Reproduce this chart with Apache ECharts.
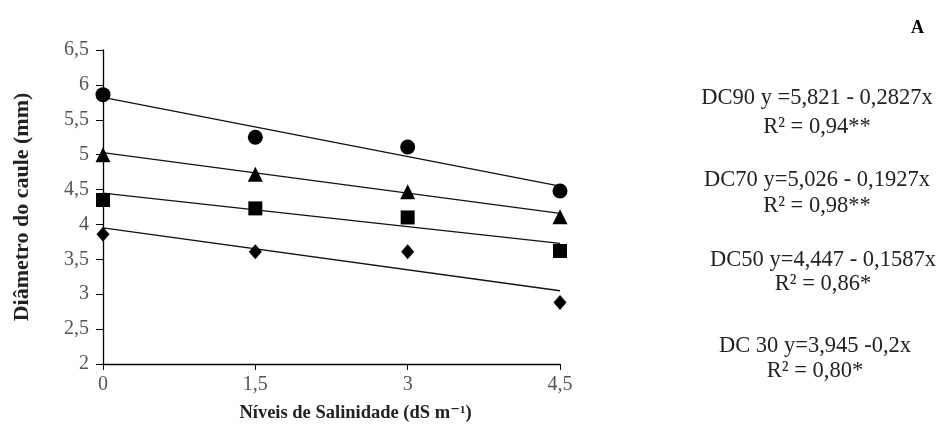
<!DOCTYPE html>
<html>
<head>
<meta charset="utf-8">
<script src="https://cdn.jsdelivr.net/npm/echarts@6/dist/echarts.min.js"></script>
<style>
    html, body { margin: 0; padding: 0; background: #fff; }
    #chart { width: 941px; height: 435px; }
</style>
</head>
<body>
<div id="chart"></div>
<script>
let salinity = [0, 1.5, 3, 4.5];
let trendX = [0, 4.5];

let dc90 = [5.86, 5.25, 5.11, 4.48];
let dc70 = [5.00, 4.72, 4.47, 4.11];
let dc50 = [4.35, 4.23, 4.10, 3.62];
let dc30 = [3.86, 3.61, 3.61, 2.88];

// fitted lines, values at x=0 and x=4.5
let fit90 = [5.82, 4.55];
let fit70 = [5.03, 4.16];
let fit50 = [4.45, 3.73];
let fit30 = [3.95, 3.05];

let eqLabels = [
    ['DC90 y =5,821 - 0,2827x', 'R² = 0,94**'],
    ['DC70 y=5,026 - 0,1927x', 'R² = 0,98**'],
    ['DC50 y=4,447 - 0,1587x', 'R² = 0,86*'],
    ['DC 30 y=3,945 -0,2x', 'R² = 0,80*']
];
let eqY = [[98, 127], [180, 206], [260, 284], [346, 371]];
let eqX = [817, 817, 823, 815];

let serif = '"Liberation Serif", "DejaVu Serif", serif';

function pairs(xs, ys) {
    return xs.map(function (x, i) { return [x, ys[i]]; });
}

function scatter(name, data, symbol, size) {
    return {
        name: name,
        type: 'scatter',
        symbol: symbol,
        symbolSize: size,
        itemStyle: { color: '#000', opacity: 1 },
        data: pairs(salinity, data),
        z: 3
    };
}

function trend(name, data) {
    return {
        name: name,
        type: 'line',
        symbol: 'none',
        lineStyle: { color: '#111', width: 1.3 },
        data: pairs(trendX, data),
        z: 2
    };
}

let graphics = [{
    type: 'text',
    left: 911,
    top: 19,
    style: { text: 'A', font: 'bold 18px ' + serif, fill: '#000' }
}];
eqLabels.forEach(function (lab, i) {
    for (let j = 0; j < 2; j++) {
        graphics.push({
            type: 'text',
            x: eqX[i],
            y: eqY[i][j],
            style: {
                text: lab[j],
                font: '22.5px ' + serif,
                fill: '#222',
                align: 'center',
                verticalAlign: 'middle'
            }
        });
    }
});

let chart = echarts.init(document.getElementById('chart'));
let option = {
    backgroundColor: '#fff',
    animation: false,
    grid: { left: 103, right: 381, top: 50, bottom: 71 },
    xAxis: {
        type: 'value',
        min: 0,
        max: 4.5,
        interval: 1.5,
        name: 'Níveis de Salinidade (dS m⁻¹)',
        nameLocation: 'middle',
        nameGap: 40,
        nameTextStyle: {
            fontFamily: serif, fontWeight: 'bold', fontSize: 18.5, color: '#222',
            padding: [0, 0, 0, 48]
        },
        axisLine: { lineStyle: { color: '#000', width: 1.3 } },
        axisTick: { show: true, inside: false, length: 6, lineStyle: { color: '#000' } },
        axisLabel: {
            fontFamily: serif, fontSize: 20, color: '#555', margin: 11,
            formatter: function (v) { return String(v).replace('.', ','); }
        },
        splitLine: { show: false }
    },
    yAxis: {
        type: 'value',
        min: 2,
        max: 6.5,
        interval: 0.5,
        name: 'Diâmetro do caule (mm)',
        nameLocation: 'middle',
        nameGap: 70,
        nameTextStyle: { fontFamily: serif, fontWeight: 'bold', fontSize: 22, color: '#222' },
        axisLine: { show: true, lineStyle: { color: '#000', width: 1.3 } },
        axisTick: { show: true, inside: false, length: 7, lineStyle: { color: '#000' } },
        axisLabel: {
            fontFamily: serif, fontSize: 20, color: '#555', margin: 14,
            formatter: function (v) { return String(v).replace('.', ','); }
        },
        splitLine: { show: false }
    },
    series: [
        trend('fit90', fit90),
        trend('fit70', fit70),
        trend('fit50', fit50),
        trend('fit30', fit30),
        scatter('DC90', dc90, 'circle', 15),
        scatter('DC70', dc70, 'triangle', 15),
        scatter('DC50', dc50, 'rect', 14),
        scatter('DC30', dc30, 'diamond', [13, 15])
    ],
    graphic: graphics
};
chart.setOption(option);
</script>
</body>
</html>
